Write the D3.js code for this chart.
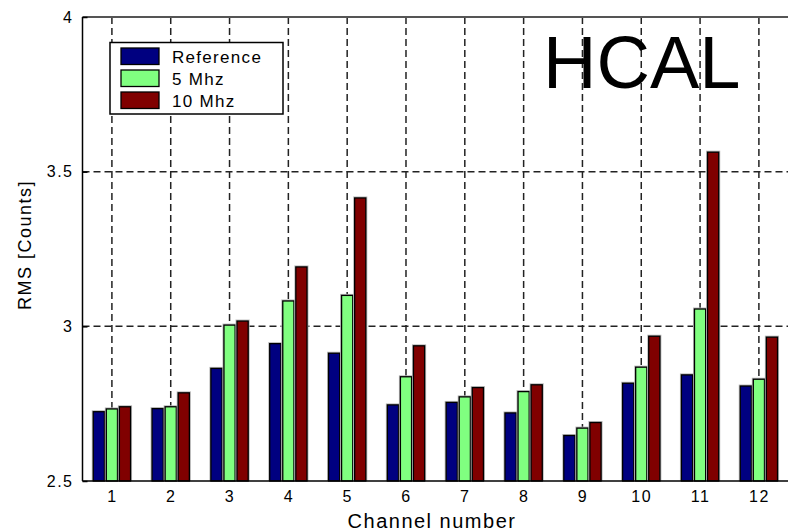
<!DOCTYPE html>
<html>
<head>
<meta charset="utf-8">
<script src="https://cdn.jsdelivr.net/npm/d3@7/dist/d3.min.js"></script>
<style>
  html, body { margin: 0; padding: 0; background: #fff; }
  svg { display: block; }
  text { font-family: "Liberation Sans", Arial, sans-serif; fill: #000; }
</style>
</head>
<body>
<svg id="chart" width="788" height="531"></svg>
<script>
const channels = [1, 2, 3, 4, 5, 6, 7, 8, 9, 10, 11, 12];
const seriesNames = ["Reference", "5 Mhz", "10 Mhz"];
const reference = [2.724, 2.734, 2.864, 2.944, 2.913, 2.746, 2.754, 2.720, 2.647, 2.816, 2.843, 2.807];
const mhz5      = [2.733, 2.740, 3.004, 3.082, 3.100, 2.837, 2.772, 2.789, 2.671, 2.868, 3.056, 2.829];
const mhz10     = [2.740, 2.785, 3.017, 3.192, 3.415, 2.937, 2.802, 2.811, 2.689, 2.968, 3.563, 2.965];
const yTicks = [2.5, 3, 3.5, 4];
const colors = ["#000080", "#80ff80", "#800000"];
const series = [reference, mhz5, mhz10];

const svg = d3.select("#chart");
const L = 82.5, R = 788.3, T = 17, B = 481;

const x = d3.scaleLinear().domain([0.5, 12.5]).range([L, R]);
const y = d3.scaleLinear().domain([2.5, 4]).range([B, T]);

// grid
const grid = svg.append("g");
grid.selectAll("line.v").data(channels).join("line")
  .attr("x1", d => x(d)).attr("x2", d => x(d))
  .attr("y1", T).attr("y2", B)
  .attr("stroke", "#222").attr("stroke-width", 1.5)
  .attr("stroke-dasharray", "7,4");
grid.selectAll("line.h").data(yTicks.filter(v => v > 2.5 && v < 4)).join("line")
  .attr("x1", L).attr("x2", R)
  .attr("y1", d => y(d)).attr("y2", d => y(d))
  .attr("stroke", "#222").attr("stroke-width", 1.5)
  .attr("stroke-dasharray", "7,4");

// bars
const step = 0.222, bw = 0.19;
const bars = svg.append("g");
series.forEach((vals, si) => {
  const off = (si - 1) * step;
  // halo
  bars.selectAll(null).data(vals).join("rect")
    .attr("x", (d, i) => x(channels[i] + off - bw / 2) - 1.5)
    .attr("y", d => y(d) - 1.5)
    .attr("width", x(bw) - x(0) + 3)
    .attr("height", d => y(2.5) - y(d) + 1.5)
    .attr("fill", "#b8b8b8");
  bars.selectAll(null).data(vals).join("rect")
    .attr("x", (d, i) => x(channels[i] + off - bw / 2))
    .attr("y", d => y(d))
    .attr("width", x(bw) - x(0))
    .attr("height", d => y(2.5) - y(d))
    .attr("fill", colors[si])
    .attr("stroke", "#000").attr("stroke-width", 1.3);
});

// axes frame
svg.append("line").attr("x1", L).attr("x2", R + 2).attr("y1", T).attr("y2", T)
  .attr("stroke", "#555").attr("stroke-width", 2);
svg.append("line").attr("x1", L).attr("x2", L).attr("y1", T).attr("y2", B)
  .attr("stroke", "#000").attr("stroke-width", 1.5);
svg.append("line").attr("x1", L).attr("x2", R + 2).attr("y1", B).attr("y2", B)
  .attr("stroke", "#000").attr("stroke-width", 1.5);

// y axis ticks & labels
const yAxis = d3.axisLeft(y).tickValues(yTicks).tickFormat(d3.format("")).tickSize(-5).tickPadding(9);
const ya = svg.append("g").attr("transform", `translate(${L},0)`).call(yAxis);
ya.select(".domain").remove();
ya.selectAll(".tick line").attr("stroke", "#000").attr("stroke-width", 1.5);
ya.selectAll(".tick text")
  .style("font-family", '"Liberation Sans", Arial, sans-serif')
  .style("font-size", "16px").style("letter-spacing", "1.5px").attr("fill", "#222");

// x axis labels
const xAxis = d3.axisBottom(x).tickValues(channels).tickFormat(d3.format("d")).tickSize(0).tickPadding(10);
const xa = svg.append("g").attr("transform", `translate(0,${B})`).call(xAxis);
xa.select(".domain").remove();
xa.selectAll(".tick text")
  .style("font-family", '"Liberation Sans", Arial, sans-serif')
  .style("font-size", "16px").style("letter-spacing", "1.5px").attr("fill", "#222");

// axis titles
svg.append("text").attr("x", 432).attr("y", 528).attr("text-anchor", "middle")
  .style("font-size", "20px").style("letter-spacing", "1.5px").attr("fill", "#222")
  .text("Channel number");
svg.append("text").attr("transform", "translate(31,245) rotate(-90)").attr("text-anchor", "middle")
  .style("font-size", "18px").style("letter-spacing", "1.5px").attr("fill", "#222")
  .text("RMS [Counts]");

// HCAL label
svg.append("text").attr("x", 543).attr("y", 88)
  .style("font-size", "74px").text("HCAL");

// legend
const lg = svg.append("g");
lg.append("rect").attr("x", 110).attr("y", 42.5).attr("width", 173).attr("height", 71.5)
  .attr("fill", "#fff").attr("stroke", "#000").attr("stroke-width", 1.5);
seriesNames.forEach((n, i) => {
  const yy = 48 + i * 22;
  lg.append("rect").attr("x", 121).attr("y", yy).attr("width", 38).attr("height", 16.5)
    .attr("fill", colors[i]).attr("stroke", "#000").attr("stroke-width", 1.3);
  lg.append("text").attr("x", 172).attr("y", yy + 14.5)
    .style("font-size", "17px").style("letter-spacing", "1.3px").attr("fill", "#222").text(n);
});
</script>
</body>
</html>
